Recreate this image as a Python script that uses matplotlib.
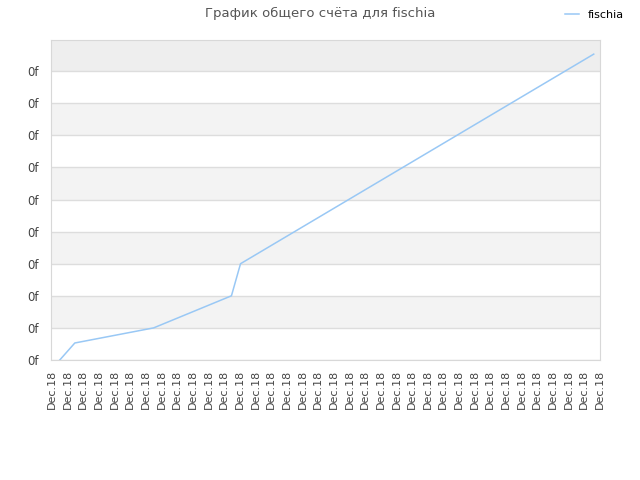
import matplotlib
matplotlib.use("Agg")
import matplotlib.pyplot as plt
from matplotlib.ticker import FixedLocator, FuncFormatter

# score history for fischia (x in tick units, y in grid units)
x_vals = [0.51, 1.47, 6.5, 11.47, 12.05, 34.6]
y_vals = [0.0, 0.53, 1.0, 2.0, 3.0, 9.53]
n_ticks = 36
tick_labels = ["Dec.18"] * n_ticks
y_ticks = list(range(10))

fig = plt.figure(figsize=(6.4, 4.8), dpi=100)
ax = fig.add_axes([51 / 640, 120 / 480, 549 / 640, 320 / 480])

# alternating background bands
for i in range(10):
    if i == 9:
        c = "#eeeeee"
    elif i % 2 == 1:
        c = "#f3f3f3"
    else:
        c = "#ffffff"
    ax.axhspan(i, i + 1, color=c, zorder=0, lw=0)

ax.plot(x_vals, y_vals, color="#99c8f5", lw=1.1, label="fischia", zorder=3)

ax.set_xlim(-0.05, n_ticks - 1)
ax.set_ylim(0, 9.97)
ax.set_xticks(range(n_ticks))
ax.set_xticklabels(tick_labels, rotation=90, fontsize=8, color="#444444")
ax.yaxis.set_major_locator(FixedLocator(y_ticks))
ax.yaxis.set_major_formatter(FuncFormatter(lambda v, p: "0f"))
ax.tick_params(axis="y", labelsize=8.5, colors="#444444", length=0, pad=9)
ax.tick_params(axis="x", length=0, pad=7)
ax.grid(axis="y", color="#dddddd", lw=1, zorder=1)
ax.set_axisbelow(True)
for s in ax.spines.values():
    s.set_color("#d8d8d8")

fig.text(0.5, 1 - 13 / 480, "График общего счёта для fischia", ha="center",
         va="center", fontsize=9.5, color="#555555")
leg = fig.legend(loc="upper right", bbox_to_anchor=(0.99, 1.0), frameon=False,
                 fontsize=8, handlelength=1.2, handletextpad=0.8)

fig.savefig("out.png", dpi=100)
